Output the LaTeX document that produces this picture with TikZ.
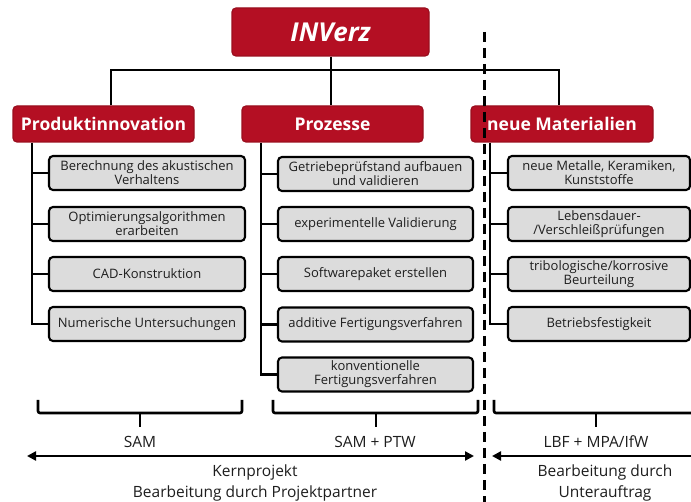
\documentclass[tikz,border=0pt]{standalone}
\usepackage{fontspec}
\setmainfont{Open Sans}
\usetikzlibrary{arrows.meta}
\definecolor{boxred}{HTML}{B40F23}
\definecolor{boxredline}{HTML}{9A0E1E}
\definecolor{boxgray}{HTML}{DCDCDC}
\definecolor{txt}{HTML}{1E1E1E}
\tikzset{
  topbox/.style={draw=boxredline, line width=1.2pt, fill=boxred, rounded corners=4pt,
    text=white, font=\bfseries\fontsize{17.5}{19}\selectfont, inner sep=0pt,
    minimum height=36pt},
  childbox/.style={draw=black, line width=2.1pt, fill=boxgray, rounded corners=4pt,
    text=txt, font=\fontsize{13}{14}\selectfont, align=center, inner sep=0pt,
    minimum height=34pt},
  conn/.style={line width=2.6pt, black},
  brace/.style={line width=2.6pt, black, rounded corners=2pt},
  sep/.style={line width=3pt, black, dash pattern=on 10pt off 6pt},
  lbl/.style={text=txt, font=\fontsize{15.5}{21}\selectfont, align=center, inner sep=0pt},
  arr/.style={line width=2.6pt, black},
}
\begin{document}
\begin{tikzpicture}[x=1pt,y=-1pt]
\clip (0,0) rectangle (691,502);
\fill[white] (0,0) rectangle (691,502);

% top boxes
\node[topbox, minimum width=197pt, minimum height=48pt,
  font=\bfseries\itshape\fontsize{26}{28}\selectfont] (inverz) at (330.5,32) {INVerz};
\node[topbox, minimum width=181pt] (prod) at (103.5,124) {Produktinnovation};
\node[topbox, minimum width=181pt] (proz) at (332.5,124) {Prozesse};
\node[topbox, minimum width=182pt] (mat) at (562,124) {neue Materialien};

% top connectors
\coordinate (hl) at (111,70);
\coordinate (hm) at (331,70);
\coordinate (hr) at (559,70);
\draw[conn] (prod.north -| hl) -- (hl) -- (hr) -- (mat.north -| hr);
\draw[conn] (inverz.south -| hm) -- (proz.north -| hm);

% Produktinnovation children
\node[childbox, minimum width=196pt] (p1) at (147,173) {Berechnung des akustischen\\Verhaltens};
\node[childbox, minimum width=196pt] (p2) at (147,224) {Optimierungsalgorithmen\\erarbeiten};
\node[childbox, minimum width=196pt] (p3) at (147,274) {CAD-Konstruktion};
\node[childbox, minimum width=196pt] (p4) at (147,324) {Numerische Untersuchungen};
\coordinate (pl) at (32,142);
\draw[conn] (prod.south -| pl) |- (p4.west);
\foreach \c in {p1,p2,p3} \draw[conn] (\c.west -| pl) -- (\c.west);

% Prozesse children
\node[childbox, minimum width=195pt] (z1) at (375.5,174) {Getriebeprüfstand aufbauen\\und validieren};
\node[childbox, minimum width=195pt] (z2) at (375.5,224) {experimentelle Validierung};
\node[childbox, minimum width=195pt] (z3) at (375.5,274) {Softwarepaket erstellen};
\node[childbox, minimum width=195pt] (z4) at (375.5,324.5) {additive Fertigungsverfahren};
\node[childbox, minimum width=195pt] (z5) at (375.5,374.5) {konventionelle\\Fertigungsverfahren};
\coordinate (zl) at (261,142);
\draw[conn] (proz.south -| zl) |- (z5.west);
\foreach \c in {z1,z2,z3,z4} \draw[conn] (\c.west -| zl) -- (\c.west);

% neue Materialien children
\node[childbox, minimum width=182pt] (m1) at (599,173) {neue Metalle, Keramiken,\\Kunststoffe};
\node[childbox, minimum width=182pt] (m2) at (599,224) {Lebensdauer-\\/Verschleißprüfungen};
\node[childbox, minimum width=182pt] (m3) at (599,274) {tribologische/korrosive\\Beurteilung};
\node[childbox, minimum width=182pt] (m4) at (599,324) {Betriebsfestigkeit};
\coordinate (ml) at (490,142);
\draw[conn] (mat.south -| ml) |- (m4.west);
\foreach \c in {m1,m2,m3} \draw[conn] (\c.west -| ml) -- (\c.west);

% separator
\coordinate (st) at (484,32);
\coordinate (sb) at (484,505);
\draw[sep] (st) -- (sb);

% braces
\draw[brace] (38,400) -- (38,413) -- (242,413) -- (242,400);
\draw[brace] (140,413) -- (140,427);
\draw[brace] (273,400) -- (273,413) -- (478,413) -- (478,400);
\draw[brace] (376,413) -- (376,427);
\draw[brace] (494,400) -- (494,413) -- (720,413);
\draw[brace] (596,413) -- (596,427);

% labels
\node[lbl] (sam) at (140,442) {SAM};
\node[lbl] (samptw) at (375,442) {SAM + PTW};
\node[lbl] (lbf) at (596,442) {LBF + MPA/IfW};
\node[lbl] (kern) at (255,483) {Kernprojekt\\Bearbeitung durch Projektpartner};
\node[lbl] (unter) at (605,483) {Bearbeitung durch\\Unterauftrag};

% arrows
\coordinate (a1l) at (27,456);
\coordinate (a1r) at (474,456);
\coordinate (a2l) at (492,456);
\coordinate (a2r) at (720,456);
\draw[arr, {Triangle[length=9pt,width=9pt]}-{Triangle[length=9pt,width=9pt]}] (a1l) -- (a1r);
\draw[arr, {Triangle[length=9pt,width=9pt]}-] (a2l) -- (a2r);
\end{tikzpicture}
\end{document}
